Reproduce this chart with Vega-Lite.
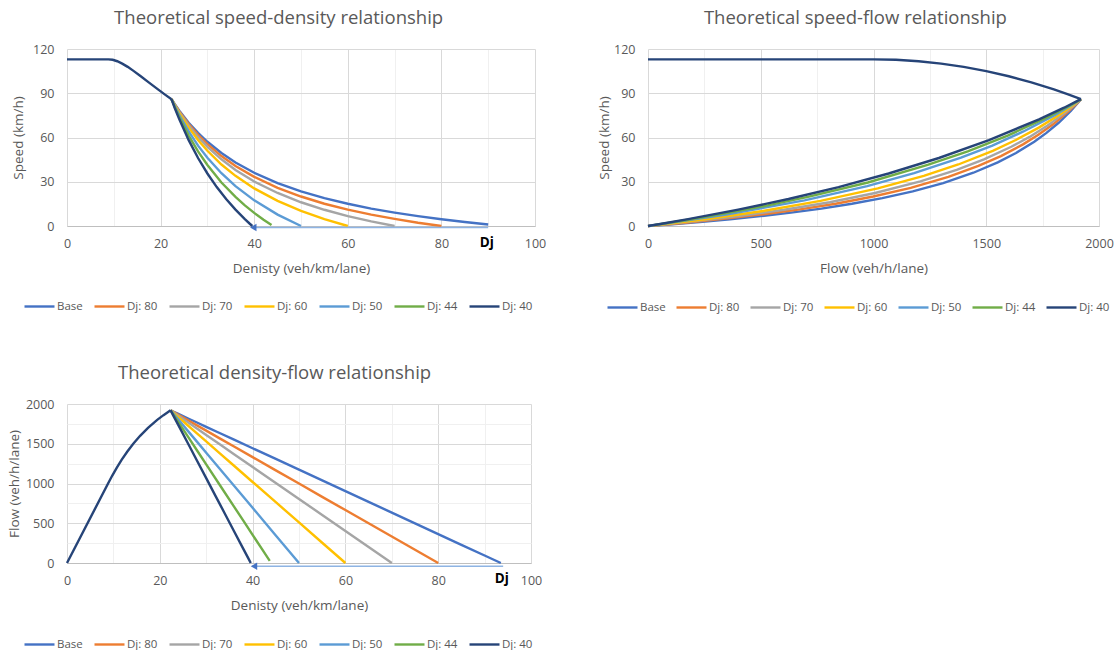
{
  "$schema": "https://vega.github.io/schema/vega-lite/v6.json",
  "padding": {"left": 7, "top": 8, "right": 0, "bottom": 0},
  "background": "white",
  "datasets": {
    "free": [
      {"k": 0, "q": 0, "v": 113}, {"k": 8.85, "q": 1000, "v": 113}, {"k": 9.76, "q": 1100, "v": 112.7},
      {"k": 10.74, "q": 1200, "v": 111.7}, {"k": 11.8, "q": 1300, "v": 110.1}, {"k": 12.97, "q": 1400, "v": 107.9},
      {"k": 14.28, "q": 1500, "v": 105.0}, {"k": 15.76, "q": 1600, "v": 101.5}, {"k": 17.46, "q": 1700, "v": 97.4},
      {"k": 19.44, "q": 1800, "v": 92.6}, {"k": 20.8, "q": 1860, "v": 89.4}, {"k": 22.33, "q": 1920, "v": 86}
    ],
    "cong": [
      {"s": "Base", "k": 22.33, "q": 1920, "v": 86}, {"s": "Base", "k": 23, "q": 1902, "v": 82.7}, {"s": "Base", "k": 24, "q": 1875, "v": 78.1},
      {"s": "Base", "k": 26, "q": 1821, "v": 70.0}, {"s": "Base", "k": 28, "q": 1767, "v": 63.1}, {"s": "Base", "k": 30, "q": 1713, "v": 57.1},
      {"s": "Base", "k": 33, "q": 1632, "v": 49.5}, {"s": "Base", "k": 36, "q": 1551, "v": 43.1}, {"s": "Base", "k": 40, "q": 1443, "v": 36.1},
      {"s": "Base", "k": 45, "q": 1309, "v": 29.1}, {"s": "Base", "k": 50, "q": 1174, "v": 23.5}, {"s": "Base", "k": 55, "q": 1039, "v": 18.9},
      {"s": "Base", "k": 60, "q": 904, "v": 15.1}, {"s": "Base", "k": 65, "q": 769, "v": 11.8}, {"s": "Base", "k": 70, "q": 634, "v": 9.1},
      {"s": "Base", "k": 75, "q": 499, "v": 6.7}, {"s": "Base", "k": 80, "q": 364, "v": 4.6}, {"s": "Base", "k": 85, "q": 229, "v": 2.7},
      {"s": "Base", "k": 90, "q": 94, "v": 1.05}, {"s": "Base", "k": 93.5, "q": 0, "v": 0},
      {"s": "Dj: 80", "k": 22.33, "q": 1920, "v": 86}, {"s": "Dj: 80", "k": 23, "q": 1898, "v": 82.5}, {"s": "Dj: 80", "k": 24, "q": 1864, "v": 77.7},
      {"s": "Dj: 80", "k": 26, "q": 1798, "v": 69.1}, {"s": "Dj: 80", "k": 28, "q": 1731, "v": 61.8}, {"s": "Dj: 80", "k": 30, "q": 1665, "v": 55.5},
      {"s": "Dj: 80", "k": 33, "q": 1565, "v": 47.4}, {"s": "Dj: 80", "k": 36, "q": 1465, "v": 40.7}, {"s": "Dj: 80", "k": 40, "q": 1332, "v": 33.3},
      {"s": "Dj: 80", "k": 45, "q": 1165, "v": 25.9}, {"s": "Dj: 80", "k": 50, "q": 999, "v": 20.0}, {"s": "Dj: 80", "k": 55, "q": 832, "v": 15.1},
      {"s": "Dj: 80", "k": 60, "q": 666, "v": 11.1}, {"s": "Dj: 80", "k": 65, "q": 499, "v": 7.7}, {"s": "Dj: 80", "k": 70, "q": 333, "v": 4.8},
      {"s": "Dj: 80", "k": 75, "q": 166, "v": 2.2}, {"s": "Dj: 80", "k": 80, "q": 0, "v": 0},
      {"s": "Dj: 70", "k": 22.33, "q": 1920, "v": 86}, {"s": "Dj: 70", "k": 23, "q": 1893, "v": 82.3}, {"s": "Dj: 70", "k": 24, "q": 1853, "v": 77.2},
      {"s": "Dj: 70", "k": 26, "q": 1772, "v": 68.2}, {"s": "Dj: 70", "k": 28, "q": 1692, "v": 60.4}, {"s": "Dj: 70", "k": 30, "q": 1611, "v": 53.7},
      {"s": "Dj: 70", "k": 33, "q": 1490, "v": 45.2}, {"s": "Dj: 70", "k": 36, "q": 1369, "v": 38.0}, {"s": "Dj: 70", "k": 40, "q": 1208, "v": 30.2},
      {"s": "Dj: 70", "k": 45, "q": 1007, "v": 22.4}, {"s": "Dj: 70", "k": 50, "q": 806, "v": 16.1}, {"s": "Dj: 70", "k": 55, "q": 604, "v": 11.0},
      {"s": "Dj: 70", "k": 60, "q": 403, "v": 6.7}, {"s": "Dj: 70", "k": 65, "q": 201, "v": 3.1}, {"s": "Dj: 70", "k": 70, "q": 0, "v": 0},
      {"s": "Dj: 60", "k": 22.33, "q": 1920, "v": 86}, {"s": "Dj: 60", "k": 23, "q": 1886, "v": 82.0}, {"s": "Dj: 60", "k": 24, "q": 1835, "v": 76.5},
      {"s": "Dj: 60", "k": 26, "q": 1733, "v": 66.7}, {"s": "Dj: 60", "k": 28, "q": 1631, "v": 58.3}, {"s": "Dj: 60", "k": 30, "q": 1529, "v": 51.0},
      {"s": "Dj: 60", "k": 33, "q": 1376, "v": 41.7}, {"s": "Dj: 60", "k": 36, "q": 1223, "v": 34.0}, {"s": "Dj: 60", "k": 40, "q": 1019, "v": 25.5},
      {"s": "Dj: 60", "k": 45, "q": 765, "v": 17.0}, {"s": "Dj: 60", "k": 50, "q": 510, "v": 10.2}, {"s": "Dj: 60", "k": 55, "q": 255, "v": 4.6},
      {"s": "Dj: 60", "k": 60, "q": 0, "v": 0},
      {"s": "Dj: 50", "k": 22.33, "q": 1920, "v": 86}, {"s": "Dj: 50", "k": 23, "q": 1874, "v": 81.5}, {"s": "Dj: 50", "k": 24, "q": 1804, "v": 75.2},
      {"s": "Dj: 50", "k": 26, "q": 1665, "v": 64.1}, {"s": "Dj: 50", "k": 28, "q": 1527, "v": 54.5}, {"s": "Dj: 50", "k": 30, "q": 1388, "v": 46.3},
      {"s": "Dj: 50", "k": 33, "q": 1180, "v": 35.8}, {"s": "Dj: 50", "k": 36, "q": 972, "v": 27.0}, {"s": "Dj: 50", "k": 40, "q": 694, "v": 17.4},
      {"s": "Dj: 50", "k": 45, "q": 347, "v": 7.7}, {"s": "Dj: 50", "k": 50, "q": 0, "v": 0},
      {"s": "Dj: 44", "k": 22.33, "q": 1920, "v": 86}, {"s": "Dj: 44", "k": 23, "q": 1861, "v": 80.9}, {"s": "Dj: 44", "k": 24, "q": 1772, "v": 73.8},
      {"s": "Dj: 44", "k": 26, "q": 1595, "v": 61.3}, {"s": "Dj: 44", "k": 28, "q": 1418, "v": 50.6}, {"s": "Dj: 44", "k": 30, "q": 1240, "v": 41.4},
      {"s": "Dj: 44", "k": 33, "q": 975, "v": 29.5}, {"s": "Dj: 44", "k": 36, "q": 709, "v": 19.7}, {"s": "Dj: 44", "k": 38, "q": 532, "v": 14.0},
      {"s": "Dj: 44", "k": 40, "q": 354, "v": 8.9}, {"s": "Dj: 44", "k": 42, "q": 177, "v": 4.2}, {"s": "Dj: 44", "k": 43.7, "q": 27, "v": 0.6},
      {"s": "Dj: 40", "k": 22.33, "q": 1920, "v": 86}, {"s": "Dj: 40", "k": 23, "q": 1845, "v": 80.2}, {"s": "Dj: 40", "k": 24, "q": 1734, "v": 72.3},
      {"s": "Dj: 40", "k": 26, "q": 1512, "v": 58.2}, {"s": "Dj: 40", "k": 28, "q": 1290, "v": 46.1}, {"s": "Dj: 40", "k": 30, "q": 1067, "v": 35.6},
      {"s": "Dj: 40", "k": 32, "q": 845, "v": 26.4}, {"s": "Dj: 40", "k": 34, "q": 623, "v": 18.3}, {"s": "Dj: 40", "k": 36, "q": 400, "v": 11.1},
      {"s": "Dj: 40", "k": 38, "q": 178, "v": 4.7}, {"s": "Dj: 40", "k": 39, "q": 67, "v": 1.7}, {"s": "Dj: 40", "k": 39.6, "q": 0, "v": 0}
    ],
    "arrowA": [{"x": 90, "x2": 40, "y": -1, "hx": 39.8, "tx": 89.7, "ty": -11.5, "t": "Dj"}],
    "arrowC": [{"x": 94, "x2": 40, "y": -40, "hx": 40.3, "tx": 93.7, "ty": -200, "t": "Dj"}]
  },
  "resolve": {"scale": {"color": "independent"}},
  "columns": 2,
  "spacing": {"row": 50, "column": 51},
  "concat": [
    {
      "width": 468, "height": 177,
      "title": {"text": "Theoretical speed-density relationship"},
      "layer": [
        {
          "data": {"name": "cong"},
          "transform": [{"filter": "datum.k <= 90"}],
          "mark": {"type": "line", "strokeWidth": 2.4},
          "encoding": {
            "x": {"field": "k", "type": "quantitative", "scale": {"domain": [0, 100], "nice": false},
              "axis": {"title": "Denisty (veh/km/lane)", "values": [0,10,20,30,40,50,60,70,80,90,100], "format": "d", "labelOverlap": false,
                "labelExpr": "datum.value % 20 === 0 ? datum.label : ''",
                "gridColor": {"condition": {"test": "datum.value % 20 === 0", "value": "#d9d9d9"}, "value": "#f0f0f0"}}},
            "y": {"field": "v", "type": "quantitative", "scale": {"domain": [0, 120], "nice": false},
              "axis": {"title": "Speed (km/h)", "values": [0,15,30,45,60,75,90,105,120], "format": "d", "labelOverlap": false, "titlePadding": 7,
                "labelExpr": "datum.value % 30 === 0 ? datum.label : ''",
                "gridColor": {"condition": {"test": "datum.value % 30 === 0", "value": "#d9d9d9"}, "value": "#f0f0f0"}}},
            "color": {"field": "s", "type": "nominal",
              "scale": {"domain": ["Base","Dj: 80","Dj: 70","Dj: 60","Dj: 50","Dj: 44","Dj: 40"],
                "range": ["#4472C4","#ED7D31","#A5A5A5","#FFC000","#5B9BD5","#70AD47","#264478"]},
              "legend": {"orient": "none", "legendX": -44, "legendY": 241, "direction": "horizontal", "title": null}}
          }
        },
        {
          "data": {"name": "free"},
          "mark": {"type": "line", "strokeWidth": 2.4, "color": "#264478"},
          "encoding": {"x": {"field": "k", "type": "quantitative"}, "y": {"field": "v", "type": "quantitative"}}
        },
        {
          "data": {"name": "arrowA"},
          "mark": {"type": "rule", "color": "#8EB4E3", "strokeWidth": 1.5},
          "encoding": {"x": {"field": "x", "type": "quantitative"}, "x2": {"field": "x2"}, "y": {"field": "y", "type": "quantitative"}}
        },
        {
          "data": {"name": "arrowA"},
          "mark": {"type": "point", "shape": "triangle-left", "filled": true, "color": "#4472C4", "size": 55, "opacity": 1},
          "encoding": {"x": {"field": "hx", "type": "quantitative"}, "y": {"field": "y", "type": "quantitative"}}
        },
        {
          "data": {"name": "arrowA"},
          "mark": {"type": "text", "fontWeight": "bold", "fontSize": 13.5, "color": "#000000", "baseline": "middle", "align": "center"},
          "encoding": {"x": {"field": "tx", "type": "quantitative"}, "y": {"field": "ty", "type": "quantitative"}, "text": {"field": "t"}}
        }
      ]
    },
    {
      "width": 451, "height": 177,
      "title": {"text": "Theoretical speed-flow relationship"},
      "layer": [
        {
          "data": {"name": "cong"},
          "mark": {"type": "line", "strokeWidth": 2.4},
          "encoding": {
            "x": {"field": "q", "type": "quantitative", "scale": {"domain": [0, 2000], "nice": false},
              "axis": {"title": "Flow (veh/h/lane)", "values": [0,250,500,750,1000,1250,1500,1750,2000], "format": "d", "labelOverlap": false,
                "labelExpr": "datum.value % 500 === 0 ? datum.label : ''",
                "gridColor": {"condition": {"test": "datum.value % 500 === 0", "value": "#d9d9d9"}, "value": "#f0f0f0"}}},
            "y": {"field": "v", "type": "quantitative", "scale": {"domain": [0, 120], "nice": false},
              "axis": {"title": "Speed (km/h)", "values": [0,15,30,45,60,75,90,105,120], "format": "d", "labelOverlap": false, "titlePadding": 2,
                "labelExpr": "datum.value % 30 === 0 ? datum.label : ''",
                "gridColor": {"condition": {"test": "datum.value % 30 === 0", "value": "#d9d9d9"}, "value": "#f0f0f0"}}},
            "color": {"field": "s", "type": "nominal",
              "scale": {"domain": ["Base","Dj: 80","Dj: 70","Dj: 60","Dj: 50","Dj: 44","Dj: 40"],
                "range": ["#4472C4","#ED7D31","#A5A5A5","#FFC000","#5B9BD5","#70AD47","#264478"]},
              "legend": {"orient": "none", "legendX": -42, "legendY": 242, "direction": "horizontal", "title": null, "columnPadding": 5}}
          }
        },
        {
          "data": {"name": "free"},
          "mark": {"type": "line", "strokeWidth": 2.4, "color": "#264478"},
          "encoding": {"x": {"field": "q", "type": "quantitative"}, "y": {"field": "v", "type": "quantitative"}}
        }
      ]
    },
    {
      "width": 464, "height": 159,
      "title": {"text": "Theoretical density-flow relationship"},
      "resolve": {"axis": {"y": "independent"}},
      "layer": [
        {
          "data": {"name": "cong"},
          "mark": {"type": "line", "strokeWidth": 2.4},
          "encoding": {
            "x": {"field": "k", "type": "quantitative", "scale": {"domain": [0, 100], "nice": false},
              "axis": {"title": "Denisty (veh/km/lane)", "values": [0,10,20,30,40,50,60,70,80,90,100], "format": "d", "labelOverlap": false,
                "labelExpr": "datum.value % 20 === 0 ? datum.label : ''",
                "gridColor": {"condition": {"test": "datum.value % 20 === 0", "value": "#d9d9d9"}, "value": "#f0f0f0"}}},
            "y": {"field": "q", "type": "quantitative", "scale": {"domain": [0, 2000], "nice": false},
              "axis": {"title": "Flow (veh/h/lane)", "values": [0,500,1000,1500,2000], "format": "d", "labelOverlap": false, "titlePadding": 4, "gridColor": "#d9d9d9"}},
            "color": {"field": "s", "type": "nominal",
              "scale": {"domain": ["Base","Dj: 80","Dj: 70","Dj: 60","Dj: 50","Dj: 44","Dj: 40"],
                "range": ["#4472C4","#ED7D31","#A5A5A5","#FFC000","#5B9BD5","#70AD47","#264478"]},
              "legend": {"orient": "none", "legendX": -44, "legendY": 224, "direction": "horizontal", "title": null}}
          }
        },
        {
          "data": {"name": "free"},
          "mark": {"type": "line", "strokeWidth": 2.4, "color": "#264478"},
          "encoding": {"x": {"field": "k", "type": "quantitative"}, "y": {"field": "q", "type": "quantitative", "axis": null}}
        },
        {
          "data": {"name": "arrowC"},
          "mark": {"type": "rule", "color": "#8EB4E3", "strokeWidth": 1.5},
          "encoding": {"x": {"field": "x", "type": "quantitative"}, "x2": {"field": "x2"},
            "y": {"field": "y", "type": "quantitative",
              "axis": {"orient": "left", "values": [250,750,1250,1750], "labels": false, "title": null, "grid": true, "gridColor": "#f0f0f0", "domain": false, "ticks": false}}}
        },
        {
          "data": {"name": "arrowC"},
          "mark": {"type": "point", "shape": "triangle-left", "filled": true, "color": "#4472C4", "size": 55, "opacity": 1},
          "encoding": {"x": {"field": "hx", "type": "quantitative"}, "y": {"field": "y", "type": "quantitative", "axis": null}}
        },
        {
          "data": {"name": "arrowC"},
          "mark": {"type": "text", "fontWeight": "bold", "fontSize": 13.5, "color": "#000000", "baseline": "middle", "align": "center"},
          "encoding": {"x": {"field": "tx", "type": "quantitative"}, "y": {"field": "ty", "type": "quantitative", "axis": null}, "text": {"field": "t"}}
        }
      ]
    }
  ],
  "config": {
    "font": "Open Sans",
    "view": {"stroke": null},
    "title": {"fontSize": 18.5, "fontWeight": "normal", "color": "#595959", "frame": "bounds", "anchor": "middle", "offset": 16},
    "axis": {
      "labelFontSize": 12.5, "labelColor": "#595959", "titleFontSize": 13.5, "titleFontWeight": "normal", "titleColor": "#595959",
      "ticks": false, "domain": false, "labelOverlap": false, "labelFlush": false
    },
    "axisX": {"domain": true, "domainColor": "#bfbfbf", "labelPadding": 11, "titlePadding": 12},
    "axisY": {"labelPadding": 13},
    "legend": {"symbolType": "stroke", "symbolStrokeWidth": 2.4, "symbolSize": 900, "labelFontSize": 11.5, "labelColor": "#595959", "labelOffset": 1, "columnPadding": 6}
  }
}
